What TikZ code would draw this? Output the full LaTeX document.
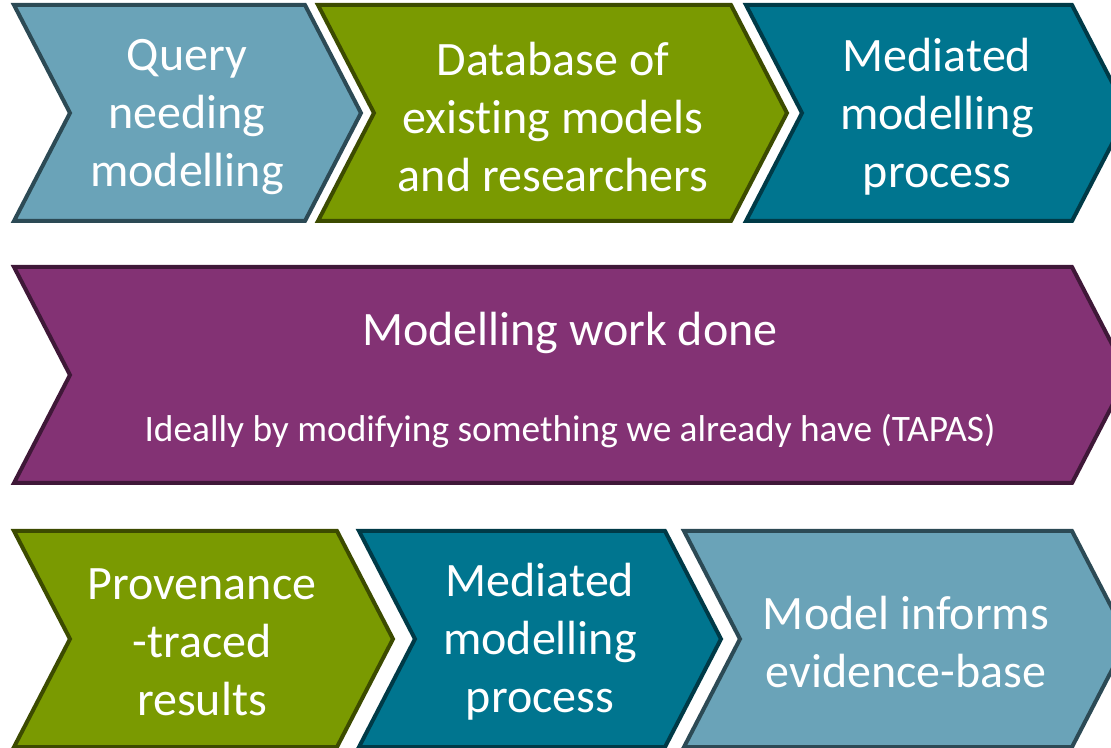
\documentclass[tikz,border=0pt]{standalone}
\usepackage{fontspec}
\setmainfont[Ligatures=NoCommon]{Carlito}
\usepackage{tikz}
\usetikzlibrary{calc,positioning}

\definecolor{lightblue}{RGB}{106,163,184}
\definecolor{lightblueline}{RGB}{44,74,85}
\definecolor{olivegreen}{RGB}{122,154,1}
\definecolor{olivegreenline}{RGB}{60,75,0}
\definecolor{petrol}{RGB}{0,117,143}
\definecolor{petrolline}{RGB}{0,58,71}
\definecolor{plum}{RGB}{131,50,116}
\definecolor{plumline}{RGB}{63,24,56}

\tikzset{
	stage/.style={line width=3pt, line join=miter},
	stagetext/.style={text=white, align=center, font=\fontsize{36}{43.5}\selectfont},
	subtext/.style={text=white, font=\fontsize{28}{33}\selectfont}
}

% chevron: fill, line, left x, right x, middle y
\newcommand{\chevron}[5]{
	\filldraw[stage, fill=#1, draw=#2]
		(#3,#5-108) -- (#4,#5-108) -- (#4+56,#5) -- (#4,#5+108)
		-- (#3,#5+108) -- (#3+56,#5) -- cycle;
}

\begin{document}
\begin{tikzpicture}[x=0.75pt,y=-0.75pt]
		\useasboundingbox (0,0) rectangle (1111,748);

		% first row
		\chevron{lightblue}{lightblueline}{14}{305}{113}
		\chevron{olivegreen}{olivegreenline}{318}{731}{113}
		\chevron{petrol}{petrolline}{746}{1072}{113}

		% second row
		\chevron{plum}{plumline}{14}{1072}{375}

		% third row
		\chevron{olivegreen}{olivegreenline}{14}{337}{639}
		\chevron{petrol}{petrolline}{359}{665}{639}
		\chevron{lightblue}{lightblueline}{684}{1072}{639}

		\begin{scope}[every node/.style={stagetext}]
			\node (query) at (187,117) {Query\\needing\\modelling};
			\node (database) at (553,117) {Database of\\existing models\\and researchers};
			\node (mediated) at (937,117) {Mediated\\modelling\\process};

			\node (work) at (570,333) {Modelling work done};

			\node (provenance) at (202,642) {Provenance\\-traced\\results};
			\node (mediatedb) at (540,642) {Mediated\\modelling\\process};
			\node (informs) at (906,642) {Model informs\\evidence-base};
		\end{scope}

		\node[subtext] (ideally) at (570,431) {Ideally by modifying something we already have (TAPAS)};
	\end{tikzpicture}
\end{document}
